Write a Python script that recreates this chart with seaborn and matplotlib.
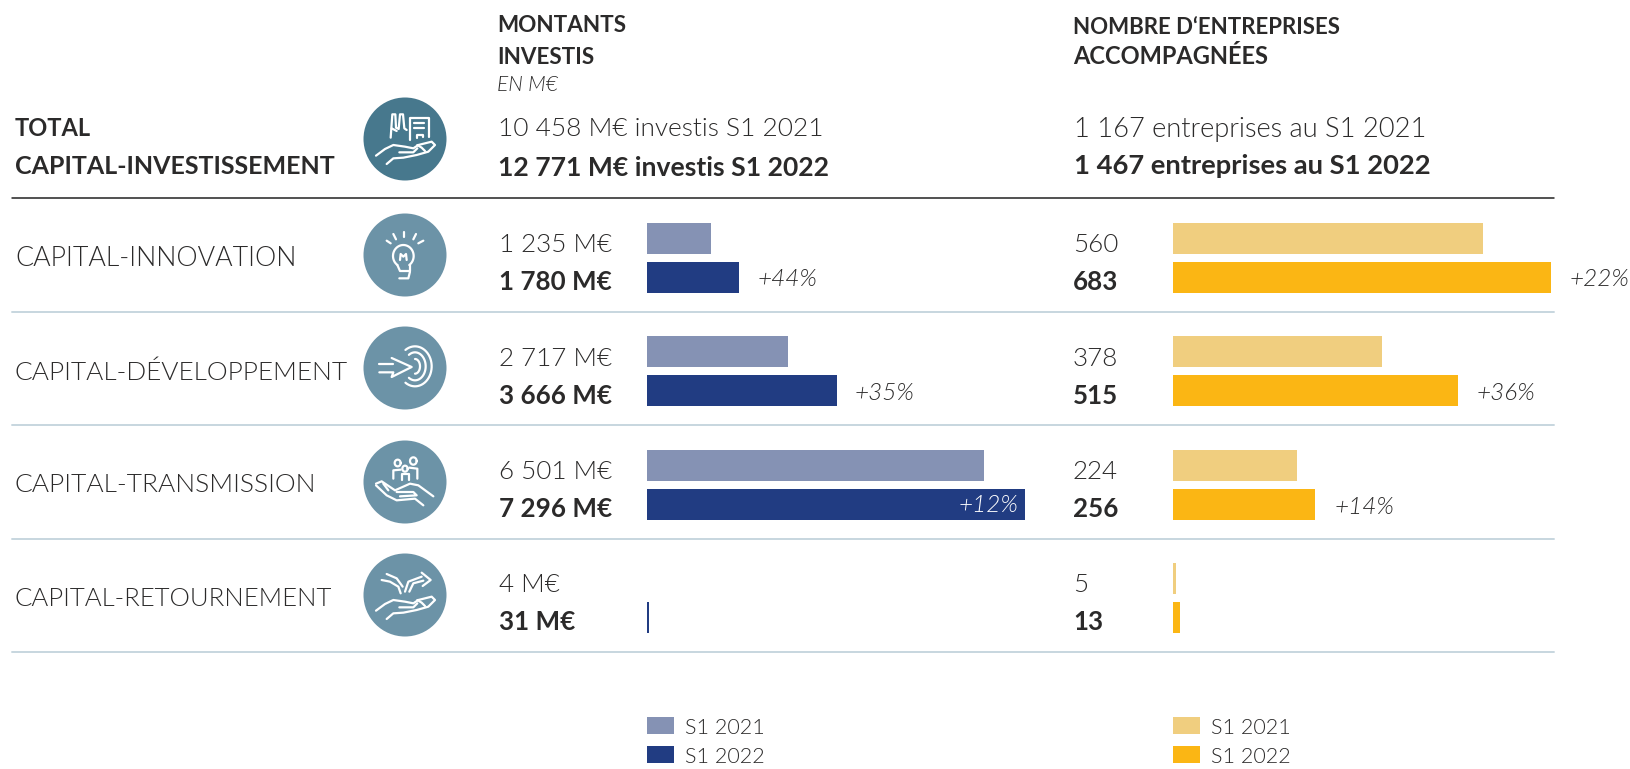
import matplotlib
matplotlib.use('Agg')
from matplotlib import pyplot as plt
from matplotlib.patches import Circle, Rectangle
import numpy as np
import pandas as pd
import seaborn as sns

sns.set_theme(style='white')
plt.rcParams['font.family'] = ['Lato', 'DejaVu Sans']

##########################################################################
# data

categories = ['CAPITAL-INNOVATION', 'CAPITAL-DÉVELOPPEMENT', 'CAPITAL-TRANSMISSION', 'CAPITAL-RETOURNEMENT']
periods = ['S1 2021', 'S1 2022']
montants_2021 = [1235, 2717, 6501, 4]
montants_2022 = [1780, 3666, 7296, 31]
entreprises_2021 = [560, 378, 224, 5]
entreprises_2022 = [683, 515, 256, 13]
montants_labels_2021 = ['1 235 M€', '2 717 M€', '6 501 M€', '4 M€']
montants_labels_2022 = ['1 780 M€', '3 666 M€', '7 296 M€', '31 M€']
montants_growth = ['+44%', '+35%', '+12%', '']
entreprises_growth = ['+22%', '+36%', '+14%', '']

W, H = 1631, 769
DARK = '#2b2a2a'


def long_table(values_a, values_b):
    return pd.DataFrame({
        'categorie': categories * 2,
        'periode': [periods[0]] * 4 + [periods[1]] * 4,
        'valeur': list(values_a) + list(values_b),
    })


def panel(fig, x0, scale, values_a, values_b, colors):
    # scale is px per data unit, rows are 113.3 px apart
    width = 450
    ax = fig.add_axes([x0 / W, 1 - 654.7 / H, width / W, 453.4 / H])
    sns.barplot(data=long_table(values_a, values_b), y='categorie', x='valeur', hue='periode',
                palette=colors, width=0.688, gap=0.205, legend=False, ax=ax, saturation=1,
                linewidth=0)
    ax.set_xlim(0, width / scale)
    ax.set_ylim(3.5, -0.5)
    ax.axis('off')
    ax.patch.set_alpha(0)
    return ax


fig = plt.figure(figsize=(W / 100, H / 100), dpi=100, facecolor='white')

panel(fig, 647, 0.0518, montants_2021, montants_2022, ['#8592b4', '#213c82'])
panel(fig, 1173, 0.5535, entreprises_2021, entreprises_2022, ['#f0ce7f', '#fbb614'])

# overlay in image pixels for text, rules and icons
ov = fig.add_axes([0, 0, 1, 1], zorder=5)
ov.set_xlim(0, W)
ov.set_ylim(H, 0)
ov.axis('off')
ov.patch.set_alpha(0)


def txt(x, y, s, size=18.7, weight=300, style='normal', color=DARK, ha='left'):
    ov.text(x, y, s, fontsize=size, fontweight=weight, fontstyle=style, color=color,
            ha=ha, va='center')


# header
txt(15, 129, 'TOTAL', 17, 'bold')
txt(15, 166, 'CAPITAL-INVESTISSEMENT', 18, 'bold')
txt(497.5, 26, 'MONTANTS', 16.2, 'bold')
txt(497.5, 57, 'INVESTIS', 16.2, 'bold')
txt(497.5, 85, 'EN M€', 15, 300, 'italic')
txt(498, 129, '10 458 M€ investis S1 2021', 18.9)
txt(498, 168, '12 771 M€ investis S1 2022', 19.1, 'bold')
txt(1073, 27, "NOMBRE D‘ENTREPRISES", 16, 'bold')
txt(1073, 57, 'ACCOMPAGNÉES', 17, 'bold')
txt(1074, 129, '1 167 entreprises au S1 2021', 19.6)
txt(1074, 166, '1 467 entreprises au S1 2022', 19.7, 'bold')

# rules
ov.plot([12, 1554], [198, 198], color='#222222', lw=1.1)
for y in [312, 425, 539, 652]:
    ov.plot([12, 1554], [y, y], color='#c7d6df', lw=1.4)

# rows
label_y = [259, 373, 485, 599]
label_size = [19.3, 18.95, 19, 18.5]
top_y = [245, 359, 472, 585]
bottom_y = [282, 396, 509, 622]
growth_y = [280, 394, 507, 0]
growth_left_x = [758, 855, 0, 0]
growth_right_x = [1570, 1477, 1335, 0]
for i, c in enumerate(categories):
    txt(15, label_y[i], c, label_size[i])
    txt(499, top_y[i], montants_labels_2021[i], 18.7)
    txt(499, bottom_y[i], montants_labels_2022[i], 18.7, 'bold')
    txt(1073, top_y[i], str(entreprises_2021[i]), 18.7)
    txt(1073, bottom_y[i], str(entreprises_2022[i]), 18.7, 'bold')
    if montants_growth[i]:
        if growth_left_x[i]:
            txt(growth_left_x[i], growth_y[i], montants_growth[i], 17.5, 300, 'italic')
        else:
            txt(1018, 506, montants_growth[i], 17.5, 300, 'italic', 'white', 'right')
        txt(growth_right_x[i], growth_y[i], entreprises_growth[i], 17.5, 300, 'italic')

# legends
for x0, cols in [(647, ['#8592b4', '#213c82']), (1173, ['#f0ce7f', '#fbb614'])]:
    for y0, col, lab in zip([717, 746], cols, periods):
        ov.add_patch(Rectangle((x0, y0), 27, 17, color=col, lw=0))
        txt(x0 + 38, y0 + 11, lab, 15.5)

##########################################################################
# icons, drawn in the 270x270 space of a 90 px tile


def arc(cx, cy, rx, ry, a0, a1):
    t = np.radians(np.linspace(a0, a1, 40))
    return list(zip(cx + rx * np.cos(t), cy + ry * np.sin(t)))


open_hand = [
    [(48, 182), (75, 162), (100, 150), (135, 155), (160, 160), (175, 150), (215, 140), (225, 150),
     (205, 170), (170, 180), (130, 188), (100, 190), (80, 207)],
    [(118, 172), (160, 172), (172, 160)],
    [(172, 150), (185, 158), (195, 168)],
]
factory = [
    [(92, 128), (97, 58), (106, 58), (108, 98), (116, 102), (120, 58), (129, 58), (133, 100), (140, 105)],
    [(95, 100), (110, 108)],
    [(150, 135), (150, 70), (207, 70), (207, 125)],
    [(172, 130), (172, 120), (190, 120), (190, 127)],
    [(163, 84), (192, 84)],
    [(163, 98), (192, 98)],
]
bulb = [
    [(80, 92), (92, 100)], [(100, 72), (108, 88)], [(133, 65), (133, 82)],
    [(168, 72), (160, 88)], [(190, 92), (175, 100)],
    arc(130, 138, 31, 33, 125, 415),
    [(112, 165), (120, 183), (150, 183), (150, 165)],
    [(118, 205), (145, 205), (150, 185)],
    [(120, 150), (122, 132), (130, 140), (138, 132), (140, 150)],
]
target = [
    arc(165, 130, 50, 60, -125, 125),
    arc(165, 130, 32, 42, -125, 125),
    arc(165, 130, 15, 22, -90, 90),
    [(95, 105), (155, 132), (95, 162), (100, 148), (58, 148)],
    [(58, 122), (100, 122)],
]
family = [
    arc(113, 78, 9, 10, 0, 360), arc(160, 72, 10, 11, 0, 360), arc(135, 95, 8, 9, 0, 360),
    [(100, 125), (100, 100), (122, 98)],
    [(172, 125), (172, 95), (148, 92)],
    [(125, 130), (125, 112), (148, 112), (148, 130)],
    [(48, 140), (65, 133), (105, 160), (150, 140), (175, 145), (220, 178)],
    [(48, 145), (80, 175), (110, 190), (165, 185), (190, 205)],
    [(110, 165), (160, 165), (170, 175), (120, 178)],
    [(70, 140), (85, 160)],
]
arrows = [
    [(65, 90), (90, 95), (115, 110), (122, 130)],
    [(80, 72), (110, 85), (128, 110)],
    [(135, 125), (145, 95), (185, 80)],
    [(148, 125), (160, 100), (190, 92)],
    [(185, 68), (212, 90), (188, 108)],
] + open_hand

icons = [factory + open_hand, bulb, target, family, arrows]
tile_y = [95, 210, 323, 437, 550]
disc_y = [139, 255, 368, 482, 595]
disc_col = ['#47788d', '#6c93a7', '#6c93a7', '#6c93a7', '#6c93a7']
for lines, ty, cy, col in zip(icons, tile_y, disc_y, disc_col):
    ov.add_patch(Circle((405, cy), 41.5, color=col, lw=0))
    for pts in lines:
        xs = [360 + p[0] / 3 for p in pts]
        ys = [ty + p[1] / 3 for p in pts]
        ov.plot(xs, ys, color='white', lw=1.6, solid_capstyle='round', solid_joinstyle='round')

plt.savefig('out.png', dpi=100)
